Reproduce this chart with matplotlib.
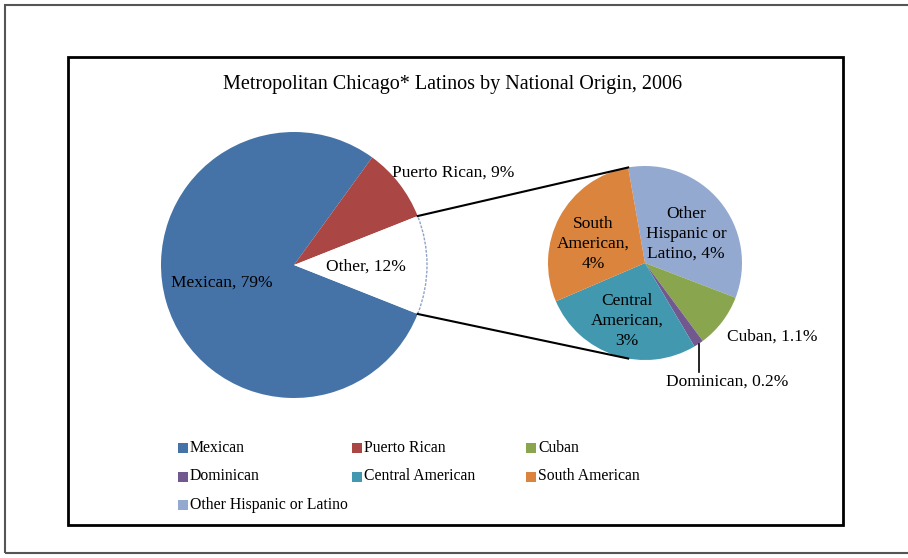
import numpy as np
import matplotlib
matplotlib.use("Agg")
import matplotlib.pyplot as plt
from matplotlib.patches import Rectangle, Arc

plt.rcParams['font.family'] = ['Liberation Serif', 'DejaVu Serif']

# main pie
main_names = ["Mexican", "Puerto Rican", "Other"]
main_values = [79, 9, 12]
main_labels = ["Mexican, 79%", "Puerto Rican, 9%", "Other, 12%"]

# breakdown of "Other"
sub_names = ["Other Hispanic or Latino", "Cuban", "Dominican",
             "Central American", "South American"]
sub_values = [4.1, 1.1, 0.2, 3.3, 3.5]
sub_labels = ["Other\nHispanic or\nLatino, 4%", "Cuban, 1.1%", "Dominican, 0.2%",
              "Central\nAmerican,\n3%", "South\nAmerican,\n4%"]

legend_names = ["Mexican", "Puerto Rican", "Cuban", "Dominican",
                "Central American", "South American", "Other Hispanic or Latino"]

colors = {"Mexican": "#4572A7", "Puerto Rican": "#AA4643", "Cuban": "#89A54E",
          "Dominican": "#71588F", "Central American": "#4198AF",
          "South American": "#DB843D", "Other Hispanic or Latino": "#93A9CF",
          "Other": "white"}

W, H = 908, 558
fig = plt.figure(figsize=(W / 100, H / 100), dpi=100)
ax = fig.add_axes([0, 0, 1, 1])
ax.set_xlim(0, W)
ax.set_ylim(0, H)
ax.set_aspect("equal")
ax.axis("off")


def Y(py):
    return H - py


# frames
ax.add_patch(Rectangle((5, Y(553)), W, 548, fill=False, ec="#555555", lw=1.5))
ax.add_patch(Rectangle((68, Y(525)), 775, 468, fill=False, ec="black", lw=2))

ax.text(453, Y(84), "Metropolitan Chicago* Latinos by National Origin, 2006",
        ha="center", va="center", fontsize=14.5)

# main pie
c1, r1 = (294, Y(265)), 133
other_half = 180 * main_values[2] / sum(main_values)
wedges1, _ = ax.pie(main_values, colors=[colors[n] for n in main_names],
                    startangle=-other_half, counterclock=False,
                    center=c1, radius=r1, frame=True,
                    wedgeprops=dict(linewidth=0))
ax.add_patch(Arc(c1, 2 * r1, 2 * r1, theta1=-other_half, theta2=other_half,
                 color="#8ea4c6", lw=1, ls=(0, (2, 1))))

# secondary pie
c2, r2 = (645, Y(263)), 97
wedges2, _ = ax.pie(sub_values, colors=[colors[n] for n in sub_names],
                    startangle=100, counterclock=False,
                    center=c2, radius=r2, frame=True,
                    wedgeprops=dict(linewidth=0))

# connector lines
for a1, a2 in [(other_half, 100), (-other_half, -100)]:
    p1 = (c1[0] + r1 * np.cos(np.radians(a1)), c1[1] + r1 * np.sin(np.radians(a1)))
    p2 = (c2[0] + r2 * np.cos(np.radians(a2)), c2[1] + r2 * np.sin(np.radians(a2)))
    ax.plot([p1[0], p2[0]], [p1[1], p2[1]], color="black", lw=1.5)

fs = 12.5
ax.text(222, Y(283), main_labels[0], ha="center", va="center", fontsize=fs)
ax.text(453, Y(173), main_labels[1], ha="center", va="center", fontsize=fs)
ax.text(366, Y(267), main_labels[2], ha="center", va="center", fontsize=fs)

sub_pos = [(686, 234), (772, 337), (727, 382), (627, 321), (593, 244)]
for lab, (px, py) in zip(sub_labels, sub_pos):
    ax.text(px, Y(py), lab, ha="center", va="center", fontsize=fs,
            linespacing=1.3)

# leader line for Dominican
wd = wedges2[2]
am = np.radians((wd.theta1 + wd.theta2) / 2)
lx = c2[0] + r2 * np.cos(am)
ly = c2[1] + r2 * np.sin(am)
ax.plot([lx, lx], [ly, Y(372)], color="black", lw=1.2)

# legend
for i, name in enumerate(legend_names):
    row, col = divmod(i, 3)
    x0 = 178 + col * 174
    y0 = Y(448 + row * 28.5)
    ax.add_patch(Rectangle((x0, y0 - 5), 10, 10, color=colors[name], lw=0))
    ax.text(x0 + 12, y0, name, ha="left", va="center", fontsize=11.3)

fig.savefig("out.png", dpi=100)
